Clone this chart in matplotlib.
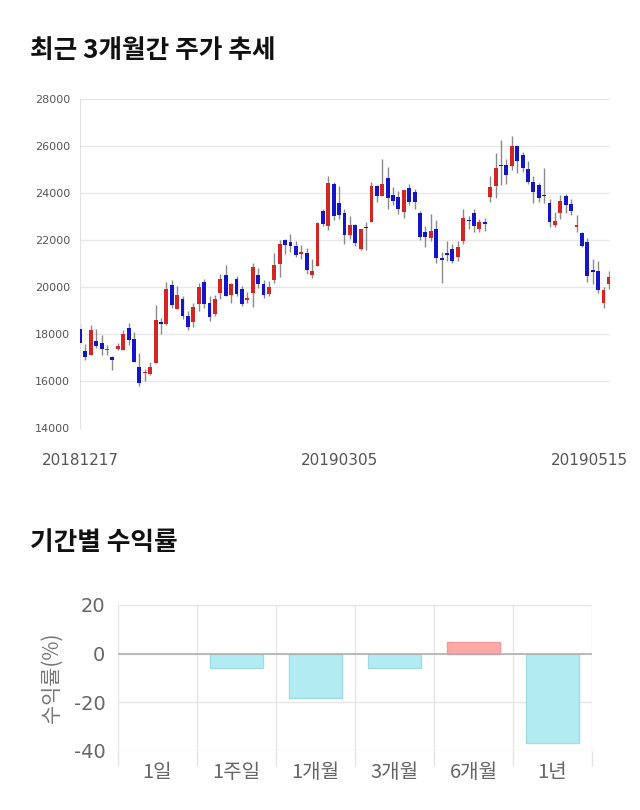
import matplotlib
matplotlib.use('Agg')
import matplotlib.pyplot as plt
import matplotlib.transforms as mtransforms
import numpy as np

plt.rcParams['font.family'] = ['Noto Sans CJK KR', 'DejaVu Sans']

# ---- candlestick data ----
opens = [18220, 17270, 17100, 17710, 17620, 17320, 17020, 17350, 17340, 18260,
         17770, 16580, 16330, 16310, 16770, 18520, 18410, 20070, 19080, 19480,
         18760, 18510, 19260, 20230, 19330, 18860, 19760, 20530, 19660, 20320,
         19930, 19450, 19760, 20530, 20120, 19720, 20290, 20970, 22010, 21930,
         21730, 21420, 21440, 20520, 20900, 23230, 22610, 24390, 23580, 23140,
         22230, 22640, 21610, 22540, 22760, 24280, 23870, 24640, 23920, 23820,
         23180, 24220, 24040, 23140, 22330, 22070, 22470, 21210, 21430, 21610,
         21290, 21970, 22860, 23140, 22470, 22780, 23820, 24280, 25170, 25180,
         25140, 25990, 25630, 25040, 24470, 24320, 23900, 23570, 22640, 23140,
         23870, 23540, 22570, 22300, 21900, 20700, 20660, 19310, 20120]
highs = [18410, 17580, 18380, 18220, 17950, 17520, 17050, 17620, 18190, 18480,
         18090, 17200, 16510, 16800, 19220, 18690, 20220, 20290, 20050, 19620,
         18980, 19330, 20190, 20360, 19620, 19660, 20550, 20930, 20190, 20470,
         20050, 19790, 21000, 20800, 20300, 20260, 21430, 22010, 22060, 22260,
         21970, 21780, 21640, 21190, 22780, 23330, 24720, 24460, 24290, 23330,
         23040, 22680, 22470, 22780, 24460, 24320, 25460, 25110, 24250, 24070,
         24140, 24390, 24180, 23250, 22580, 23110, 22830, 21470, 21970, 21830,
         21970, 23330, 23040, 23300, 22900, 22950, 24710, 25720, 26250, 25460,
         26420, 25990, 25750, 25350, 24720, 24420, 25050, 23750, 23200, 23900,
         23970, 23750, 23070, 22360, 22100, 21190, 21120, 20020, 20690]
lows = [17600, 16880, 17090, 17410, 17100, 17120, 16450, 17320, 17330, 17550,
        16810, 15770, 15980, 16270, 16770, 18010, 18400, 19120, 19050, 18620,
        18190, 18290, 18980, 19120, 18540, 18760, 19480, 19620, 19330, 19620,
        19190, 19330, 19160, 19970, 19550, 19620, 20190, 20430, 21400, 21470,
        21260, 21190, 20550, 20370, 20900, 22610, 22440, 22830, 22900, 21830,
        22040, 21760, 21570, 21590, 22760, 23610, 23870, 23300, 23500, 23110,
        22940, 23470, 23330, 22010, 21690, 21960, 21040, 20150, 21120, 21040,
        21120, 21830, 22480, 22330, 22330, 22400, 23610, 23780, 24340, 24370,
        24960, 24860, 24890, 24390, 23570, 23610, 23570, 22540, 22560, 22900,
        23170, 23080, 22330, 21710, 20220, 20120, 19760, 19120, 19900]
closes = [17620, 17020, 18190, 17510, 17380, 17380, 16880, 17470, 18020, 17740,
          16810, 15910, 16350, 16580, 18580, 18440, 19930, 19220, 19650, 18760,
          18290, 19160, 19980, 19260, 18720, 19480, 20330, 19620, 20120, 19720,
          19260, 19520, 20830, 20120, 19660, 19980, 20930, 21830, 21790, 21760,
          21370, 21460, 20720, 20690, 22710, 22660, 24420, 23040, 23070, 22230,
          22640, 21870, 22470, 22500, 24280, 23870, 24390, 23780, 23680, 23330,
          24140, 23610, 23610, 22140, 22110, 22370, 21220, 21170, 21380, 21090,
          21710, 22930, 22800, 22580, 22780, 22680, 24240, 25080, 25130, 24780,
          25990, 25350, 25080, 24470, 24040, 23780, 23860, 22780, 22800, 23680,
          23500, 23230, 22620, 21760, 20470, 20650, 19860, 19860, 20430]
date_labels = ['20181217', '20190305', '20190515']
date_idx = [0, 48, 98]
price_ticks = [14000, 16000, 18000, 20000, 22000, 24000, 26000, 28000]

# ---- period returns ----
periods = ['1일', '1주일', '1개월', '3개월', '6개월', '1년']
returns = [0.0, -5.7, -18.4, -5.7, 5.0, -36.7]
return_ticks = [-40, -20, 0, 20]

fig = plt.figure(figsize=(6.4, 8.1), dpi=100)
fig.patch.set_facecolor('white')

fig.text(30/640, 1-50/810, '최근 3개월간 주가 추세', fontsize=18.5, fontweight='bold',
         va='center', ha='left', color='#111111')
fig.text(30/640, 1-543/810, '기간별 수익률', fontsize=18.5, fontweight='bold',
         va='center', ha='left', color='#111111')

# ---- candlestick chart ----
ax = fig.add_axes([80/640, 1-428/810, 530/640, 329/810])
o = np.array(opens, dtype=float)
h = np.array(highs, dtype=float)
l = np.array(lows, dtype=float)
c = np.array(closes, dtype=float)
x = np.arange(len(o))
up = c >= o
body_colors = np.where(up, '#d42424', '#1414c8')
body_bottom = np.minimum(o, c)
body_height = np.maximum(np.abs(c - o), 60)
ax.vlines(x, l, h, color='#8a8a8a', lw=1.0, zorder=2)
ax.bar(x, body_height, bottom=body_bottom, width=0.72, color=body_colors,
       edgecolor='none', zorder=3)

ax.set_ylim(14000, 28000)
ax.set_xlim(0, 98.2)
ax.set_yticks(price_ticks)
ax.set_yticklabels([str(t) for t in price_ticks], fontsize=8, color='#555555',
                   family=['DejaVu Sans'])
ax.set_xticks(date_idx)
ax.set_xticklabels(date_labels, fontsize=11, color='#555555', family=['DejaVu Sans'])
ax.tick_params(axis='both', length=0)
ax.tick_params(axis='y', pad=7)
ax.tick_params(axis='x', pad=18)
ax.grid(axis='y', color='#e8e8e8', lw=1)
ax.set_axisbelow(True)
for s in ['top', 'right', 'bottom']:
    ax.spines[s].set_visible(False)
ax.spines['left'].set_color('#e0e0e0')
lab = ax.get_xticklabels()[-1]
lab.set_transform(lab.get_transform() +
                  mtransforms.ScaledTranslation(-19/100, 0, fig.dpi_scale_trans))

# ---- returns bar chart ----
ax2 = fig.add_axes([118/640, 1-751/810, 474/640, 146/810])
xi = np.arange(len(periods))
bar_colors = ['#ffa8a8' if v > 0 else '#b3ebf3' for v in returns]
edge_colors = ['#f09a9a' if v > 0 else ('#a3dbe5' if v < 0 else 'none') for v in returns]
ax2.bar(xi, returns, width=0.68, color=bar_colors, edgecolor=edge_colors,
        lw=1, zorder=3)
ax2.set_xlim(-0.5, len(periods) - 0.5)
ax2.set_ylim(-40, 20)
ax2.set_yticks(return_ticks)
ax2.set_yticklabels([str(t) for t in return_ticks], fontsize=14, color='#666666',
                    family=['DejaVu Sans'])
ax2.set_xticks(xi)
ax2.set_xticklabels(periods, fontsize=14.5, color='#666666')
ax2.set_xticks(np.arange(-0.5, len(periods)), minor=True)
ax2.tick_params(axis='x', which='major', length=0, pad=8)
ax2.tick_params(axis='x', which='minor', length=11, color='#e3e3e3', width=1)
ax2.tick_params(axis='y', length=0, pad=9)
ax2.grid(axis='y', color='#e6e6e6', lw=1)
ax2.grid(axis='x', which='minor', color='#e6e6e6', lw=1)
ax2.axhline(0, color='#b0b0b0', lw=1.2, zorder=4)
ax2.set_axisbelow(True)
for s in ax2.spines.values():
    s.set_visible(False)
ax2.set_ylabel('수익률(%)', fontsize=15, color='#777777', labelpad=8)

fig.savefig('out.png', dpi=100, facecolor='white')
